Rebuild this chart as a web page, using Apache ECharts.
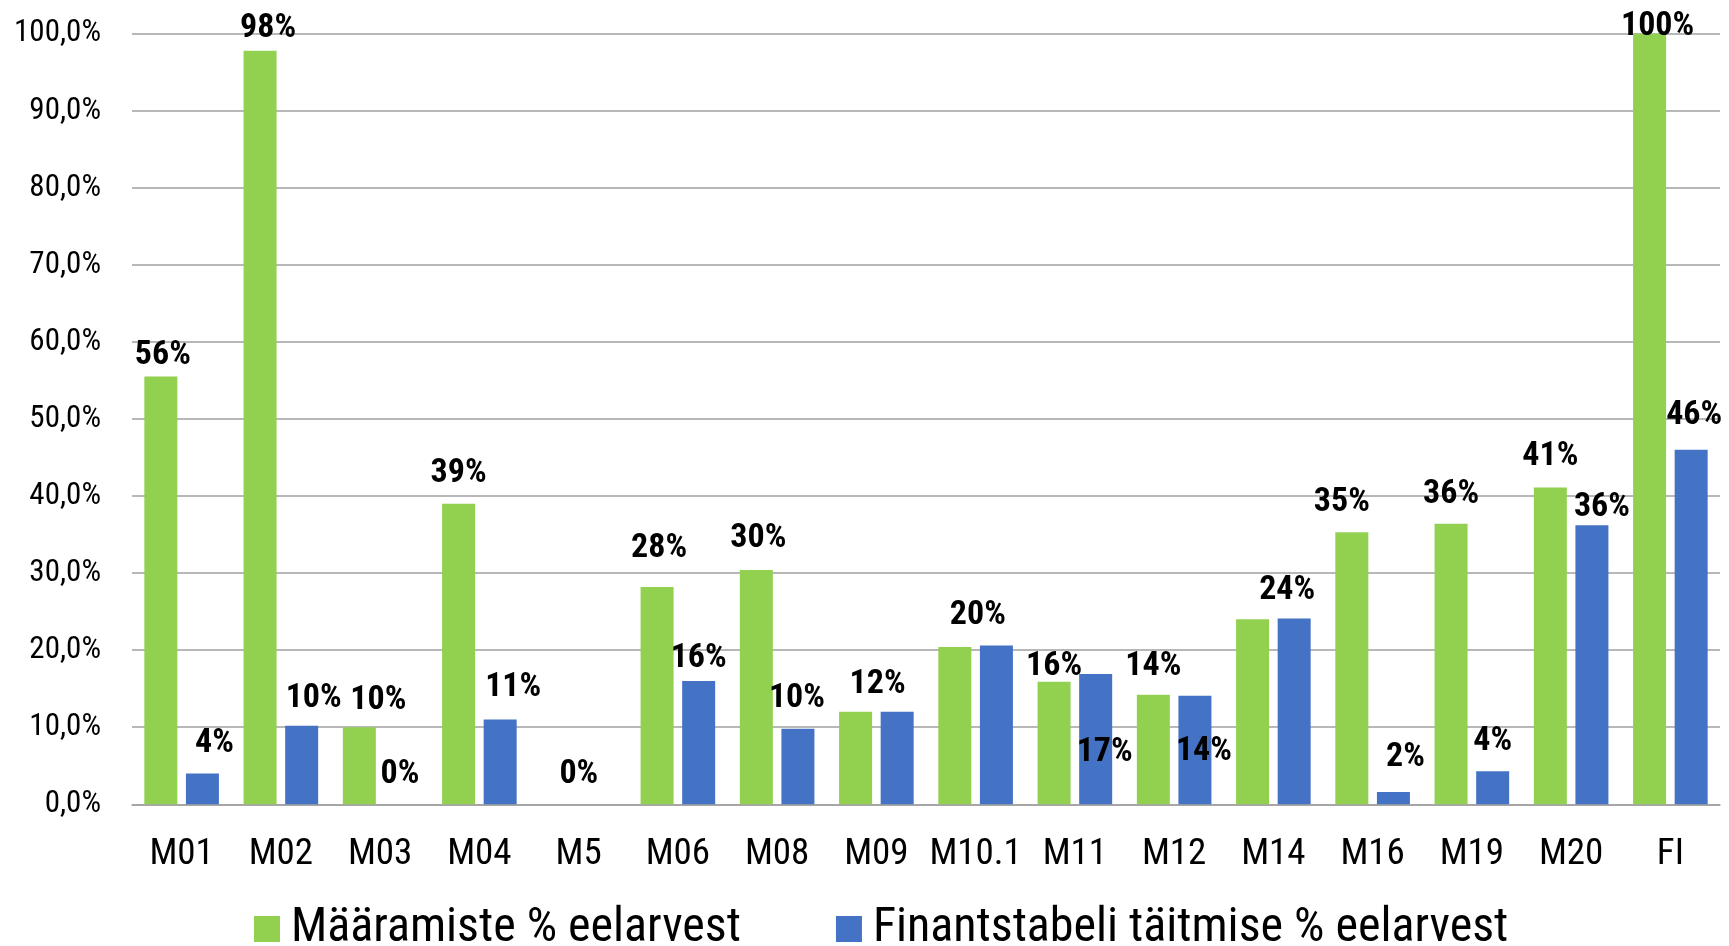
<!DOCTYPE html>
<html>
<head>
<meta charset="utf-8">
<script src="https://cdn.jsdelivr.net/npm/echarts@6/dist/echarts.min.js"></script>
<style>
html,body{margin:0;padding:0;background:#fff;}
#c{width:1729px;height:946px;}
</style>
</head>
<body>
<div id="c"></div>
<script>
const categories = ['M01','M02','M03','M04','M5','M06','M08','M09','M10.1','M11','M12','M14','M16','M19','M20','FI'];
const seriesNames = ['Määramiste % eelarvest','Finantstabeli täitmise % eelarvest'];
const greenValues = [55.5, 97.8, 10.0, 39.0, 0, 28.2, 30.4, 12.0, 20.4, 15.9, 14.2, 24.0, 35.3, 36.4, 41.1, 100.0];
const blueValues  = [4.0, 10.2, 0, 11.0, 0, 16.0, 9.8, 12.0, 20.6, 16.9, 14.1, 24.1, 1.6, 4.3, 36.2, 46.0];
const yTicks = [0,10,20,30,40,50,60,70,80,90,100];

// label styling: which labels are shown and their nudges (style only)
const greenLabelShow = [1,1,1,1,1,1,1,1,1,1,1,0,1,1,1,1];
const blueLabelShow  = [1,1,1,1,0,1,1,0,0,1,1,1,1,1,1,1];
const greenLabelOff = [[2,-3],[8,-4],[19,-9],[0,-12],[21,-12],[2,-20],[2,-14],[22,-9],[23,-14],[0,3],[0,-10],[0,0],[-10,-12],[0,-11],[0,-13],[8,11]];
const blueLabelOff  = [[12,-12],[12,-9],[-1,-12],[13,-14],[0,0],[0,-5],[-1,-12],[0,0],[0,0],[9,96],[9,74],[-7,-10],[12,-16],[0,-12],[10,0],[3,-16]];
const LABEL_SHIFT = 4;

const FONT = '"Liberation Sans Narrow", "Roboto Condensed", "DejaVu Sans Condensed", Roboto, sans-serif';

function buildData(vals, show, offs) {
  return vals.map((v, i) => ({
    value: v,
    label: { show: !!show[i], offset: [offs[i][0], offs[i][1] + LABEL_SHIFT] }
  }));
}

const chart = echarts.init(document.getElementById('c'), null, {renderer: 'canvas'});
chart.setOption({
  animation: false,
  backgroundColor: '#ffffff',
  textStyle: { fontFamily: FONT },
  grid: { left: 132, right: 9, top: 33.7, bottom: 141.7, containLabel: false },
  legend: {
    data: seriesNames,
    left: 249,
    top: 900,
    itemWidth: 26,
    itemHeight: 26,
    itemGap: 95,
    icon: 'rect',
    textStyle: { fontFamily: FONT, fontSize: 48, color: '#000', padding: [0,0,0,6] }
  },
  xAxis: {
    type: 'category',
    data: categories,
    axisLine: { lineStyle: { color: '#a0a0a0', width: 1.5 } },
    axisTick: { show: false },
    axisLabel: { interval: 0, fontFamily: FONT, fontSize: 37, color: '#000', margin: 32 }
  },
  yAxis: {
    type: 'value',
    min: 0, max: 100, interval: 10,
    axisLine: { show: false },
    axisTick: { show: false },
    splitLine: { lineStyle: { color: '#a0a0a0', width: 1.5 } },
    axisLabel: {
      fontFamily: FONT, fontSize: 31, color: '#000', margin: 31,
      formatter: v => yTicks.includes(v) ? v.toFixed(1).replace('.', ',') + '%' : ''
    }
  },
  series: [
    {
      name: seriesNames[0], type: 'bar', barWidth: 33, barGap: '26%',
      itemStyle: { color: '#92D050' },
      label: { position: 'top', distance: 5, fontFamily: FONT, fontWeight: 'bold', fontSize: 34, color: '#000',
               formatter: p => Math.round(p.value) + '%' },
      data: buildData(greenValues, greenLabelShow, greenLabelOff)
    },
    {
      name: seriesNames[1], type: 'bar', barWidth: 33, barGap: '26%',
      itemStyle: { color: '#4472C4' },
      label: { position: 'top', distance: 5, fontFamily: FONT, fontWeight: 'bold', fontSize: 34, color: '#000',
               formatter: p => Math.round(p.value) + '%' },
      data: buildData(blueValues, blueLabelShow, blueLabelOff)
    }
  ]
});
</script>
</body>
</html>
